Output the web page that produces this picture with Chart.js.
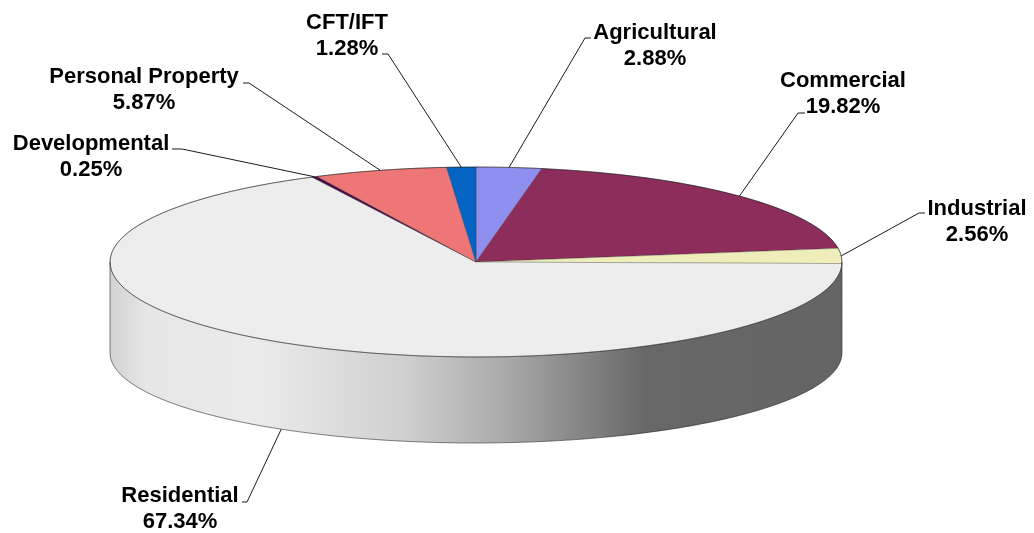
<!DOCTYPE html>
<html>
<head>
<meta charset="utf-8">
<script src="https://cdn.jsdelivr.net/npm/chart.js@4.4.0/dist/chart.umd.min.js"></script>
<style>
html, body { margin: 0; padding: 0; background: #ffffff; }
#wrap { width: 1034px; height: 533px; }
</style>
</head>
<body>
<div id="wrap"><canvas id="pieChart" width="1034" height="533"></canvas></div>
<script>
// Property class shares, clockwise from 12 o'clock
const categories = ['Agricultural', 'Commercial', 'Industrial', 'Residential', 'Developmental', 'Personal Property', 'CFT/IFT'];
const shares = [2.88, 19.82, 2.56, 67.34, 0.25, 5.87, 1.28];

const sliceColors = ['#8f8ff0', '#8c2d5c', '#efeebb', '#ededed', '#4a0c4a', '#ef7676', '#0563c4'];
const sideColors = ['#6b6bc0', '#5e1a3c', '#c4c38e', null, '#300830', '#b85454', '#034a94'];

// ellipse geometry of the tilted pie (bottom rim a bit flatter)
const PIE = { cx: 476, cy: 262, rx: 366, ry: 95, depth: 91, ryBottom: 90 };

// gradient along the front wall of the residential slice
const sideStops = [
    [0, '#d2d2d2'], [0.05, '#e6e6e6'], [0.2, '#ebebeb'], [0.4, '#d0d0d0'],
    [0.53, '#adadad'], [0.63, '#8a8a8a'], [0.73, '#686868'], [1, '#646464']
];

// label text centres / first baseline, and the two label-side points of each leader
const labelLayout = [
    { x: 655, y: 39, line: [[591, 38], [585, 38]] },
    { x: 843, y: 87, line: [[805, 113], [798, 113]] },
    { x: 977, y: 215, line: [[925, 213], [919, 213]] },
    { x: 180, y: 502, line: [[242, 502], [247, 502]], bottom: true },
    { x: 91, y: 150, line: [[172, 149], [182, 149]] },
    { x: 144, y: 83, line: [[243, 83], [249, 83]] },
    { x: 347, y: 29, line: [[382, 54], [388, 54]] }
];

const LABEL_FONT = 'bold 22px "Liberation Sans", Arial, sans-serif';
const LINE_GAP = 26;

function drawSide(ctx, arcs) {
    const { cx, cy, rx, ry, depth, ryBottom } = PIE;
    const grad = ctx.createLinearGradient(cx - rx, 0, cx + rx, 0);
    sideStops.forEach(s => grad.addColorStop(s[0], s[1]));

    arcs.forEach((arc, i) => {
        const a0 = Math.max(arc.startAngle, 0);
        const a1 = Math.min(arc.endAngle, Math.PI);
        if (a1 <= a0) return;
        ctx.beginPath();
        ctx.ellipse(cx, cy, rx, ry, 0, a0, a1);
        ctx.ellipse(cx, cy + depth, rx, ryBottom, 0, a1, a0, true);
        ctx.closePath();
        ctx.fillStyle = sideColors[i] || grad;
        ctx.fill();
    });
}

function drawRim(ctx) {
    const { cx, cy, rx, ry, depth, ryBottom } = PIE;
    ctx.save();
    ctx.strokeStyle = 'rgba(30,30,30,0.55)';
    ctx.lineWidth = 1;
    ctx.beginPath();
    ctx.ellipse(cx, cy, rx, ry, 0, 0, Math.PI * 2);
    ctx.stroke();
    ctx.beginPath();
    ctx.ellipse(cx, cy + depth, rx, ryBottom, 0, 0, Math.PI);
    ctx.stroke();
    ctx.beginPath();
    ctx.moveTo(cx - rx, cy);
    ctx.lineTo(cx - rx, cy + depth);
    ctx.moveTo(cx + rx, cy);
    ctx.lineTo(cx + rx, cy + depth);
    ctx.stroke();
    ctx.restore();
}

function drawLabels(ctx, arcs) {
    const { cx, cy, rx, ry, depth, ryBottom } = PIE;
    ctx.save();
    arcs.forEach((arc, i) => {
        const lay = labelLayout[i];
        const mid = (arc.startAngle + arc.endAngle) / 2;
        const px = cx + rx * Math.cos(mid);
        const py = lay.bottom
            ? cy + depth + ryBottom * Math.sin(mid)
            : cy + ry * Math.sin(mid);

        ctx.strokeStyle = '#1a1a1a';
        ctx.lineWidth = 1;
        ctx.beginPath();
        ctx.moveTo(lay.line[0][0], lay.line[0][1]);
        ctx.lineTo(lay.line[1][0], lay.line[1][1]);
        ctx.lineTo(px, py);
        ctx.stroke();

        ctx.fillStyle = '#000000';
        ctx.font = LABEL_FONT;
        ctx.textAlign = 'center';
        ctx.textBaseline = 'alphabetic';
        ctx.fillText(categories[i], lay.x, lay.y);
        ctx.fillText(shares[i].toFixed(2) + '%', lay.x, lay.y + LINE_GAP);
    });
    ctx.restore();
}

const pie3d = {
    id: 'pie3d',
    beforeDatasetsDraw(chart) {
        const ctx = chart.ctx;
        const arcs = chart.getDatasetMeta(0).data;
        drawSide(ctx, arcs);
        ctx.save();
        ctx.translate(PIE.cx, PIE.cy);
        ctx.scale(1, PIE.ry / PIE.rx);
        ctx.translate(-arcs[0].x, -arcs[0].y);
    },
    afterDatasetsDraw(chart) {
        const ctx = chart.ctx;
        ctx.restore();
        drawRim(ctx);
        drawLabels(ctx, chart.getDatasetMeta(0).data);
    }
};

new Chart(document.getElementById('pieChart').getContext('2d'), {
    type: 'pie',
    data: {
        labels: categories,
        datasets: [{
            data: shares,
            backgroundColor: sliceColors,
            borderColor: 'rgba(40,40,40,0.45)',
            borderWidth: 1,
            radius: PIE.rx,
            clip: false
        }]
    },
    options: {
        responsive: false,
        devicePixelRatio: 1,
        animation: false,
        layout: { padding: 0 },
        plugins: {
            legend: { display: false },
            tooltip: { enabled: false }
        },
        events: []
    },
    plugins: [pie3d]
});
</script>
</body>
</html>
